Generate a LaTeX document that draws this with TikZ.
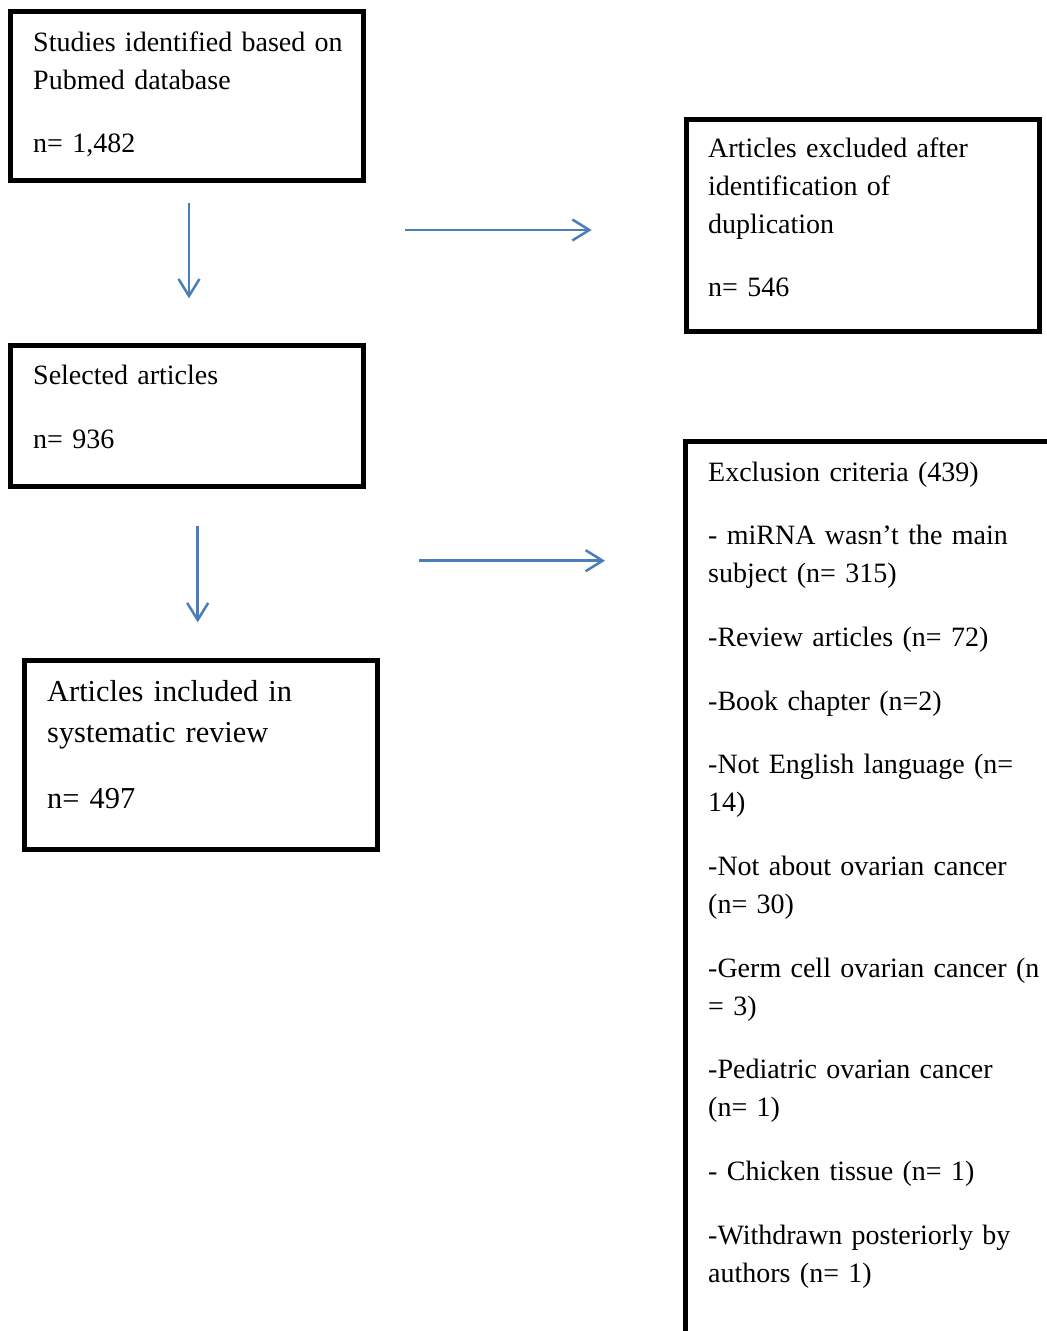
\documentclass[tikz,border=0pt]{standalone}
\usepackage{fontspec}
\setmainfont{Liberation Serif}
\definecolor{ArrowBlue}{HTML}{4A7EBB}
\usetikzlibrary{arrows.meta}
\tikzset{
  flowbox/.style={draw=black, line width=5pt, inner sep=0pt, outer sep=0pt, anchor=north west},
  boxtext/.style={anchor=base west, inner sep=0pt, text width=#1, align=left, font=\fontsize{28}{38}\selectfont},
  bigtext/.style={anchor=base west, inner sep=0pt, text width=#1, align=left, font=\fontsize{30.4}{41}\selectfont},
  flowarrow/.style={-{Straight Barb[length=17pt,width=21pt]}, line width=2.5pt, draw=ArrowBlue}
}

\begin{document}
\begin{tikzpicture}[x=1pt,y=-1pt]
\useasboundingbox (0,0) rectangle (1047,1331);
\clip (0,0) rectangle (1047,1331);

% frames
\node[flowbox, minimum width=352.7pt, minimum height=168.7pt] (pubmed) at (10.8,11.8) {};
\node[flowbox, minimum width=353pt, minimum height=212.5pt] (duplicates) at (686,119) {};
\node[flowbox, minimum width=352.4pt, minimum height=140.7pt] (selected) at (10.8,345.8) {};
\node[flowbox, minimum width=352.7pt, minimum height=188.4pt] (included) at (24.8,660.8) {};
\node[flowbox, minimum width=420pt, minimum height=950pt] (criteria) at (685.5,441) {};

% texts
\node[boxtext=330pt] (pubmedtxt) at (33,51.7) {Studies identified based on\\Pubmed database\\[25pt]n= 1,482};
\node[boxtext=330pt] (duplicatestxt) at (708,157.3) {Articles excluded after\\identification of\\duplication\\[25.4pt]n= 546};
\node[boxtext=330pt] (selectedtxt) at (33,384.3) {Selected articles\\[26pt]n= 936};
\node[bigtext=330pt] (includedtxt) at (47,701.7) {Articles included in\\systematic review\\[24.6pt]n= 497};
\node[boxtext=345pt] (criteriatxt) at (708,481) {Exclusion criteria (439)\\[25.7pt]
- miRNA wasn’t the main\\subject (n= 315)\\[25.7pt]
-Review articles (n= 72)\\[25.7pt]
-Book chapter (n=2)\\[25.7pt]
-Not English language (n=\\14)\\[25.7pt]
-Not about ovarian cancer\\(n= 30)\\[25.7pt]
-Germ cell ovarian cancer (n\\= 3)\\[25.7pt]
-Pediatric ovarian cancer\\(n= 1)\\[25.7pt]
- Chicken tissue (n= 1)\\[25.7pt]
-Withdrawn posteriorly by\\authors (n= 1)};

% arrows
\coordinate (down1s) at (189,202.7);
\coordinate (down1e) at (189,298.3);
\coordinate (excl1s) at (405,230);
\coordinate (excl1e) at (591.7,230);
\coordinate (down2s) at (197.7,525.7);
\coordinate (down2e) at (197.7,622.3);
\coordinate (excl2s) at (418.7,560.7);
\coordinate (excl2e) at (605,560.7);
\draw[flowarrow] (down1s) -- (down1e);
\draw[flowarrow] (excl1s) -- (excl1e);
\draw[flowarrow] (down2s) -- (down2e);
\draw[flowarrow] (excl2s) -- (excl2e);
\end{tikzpicture}
\end{document}
